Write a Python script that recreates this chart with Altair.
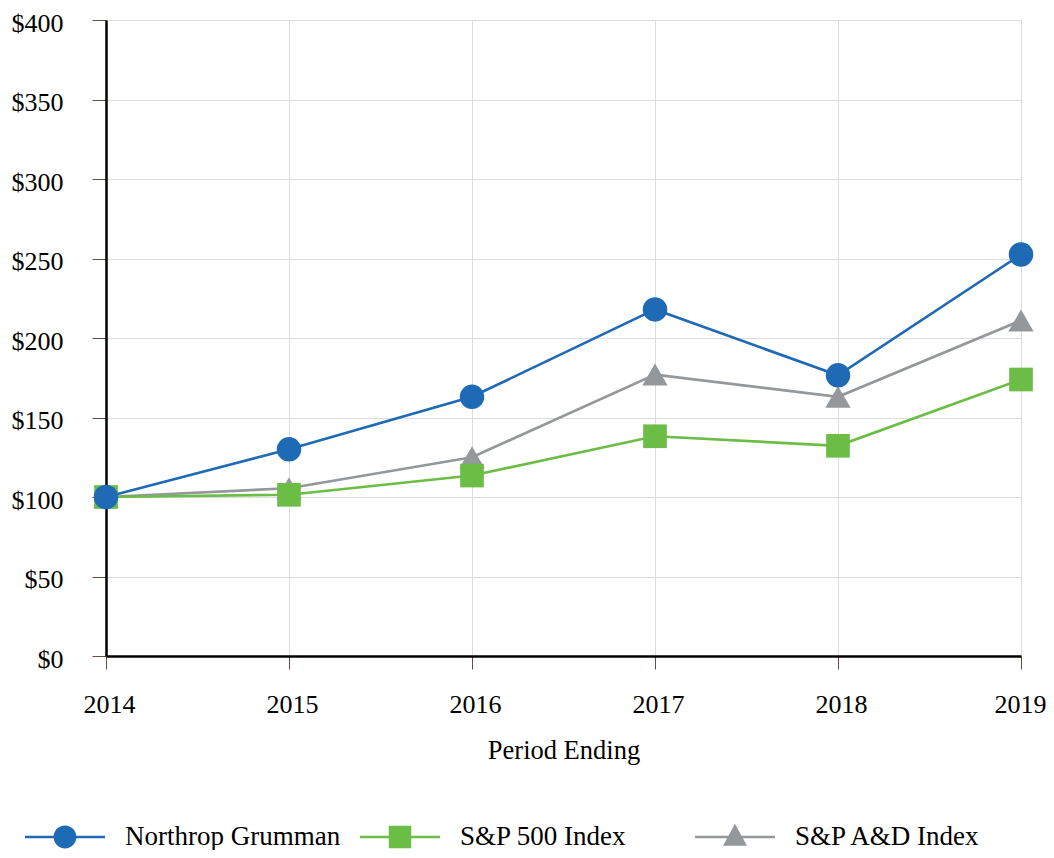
import altair as alt
import pandas as pd

years = [2014, 2015, 2016, 2017, 2018, 2019]
northrop = [100, 130, 163, 218, 176.5, 252.5]
sp500 = [100, 101.4, 113.5, 138.2, 132.2, 173.9]
spad = [100, 105.5, 125, 177, 163, 211]

series_names = ["Northrop Grumman", "S&P 500 Index", "S&P A&D Index"]
series_colors = ["#1f6ab4", "#6cbd46", "#95989b"]
series_values = [northrop, sp500, spad]
y_ticks = [0, 50, 100, 150, 200, 250, 300, 350, 400]

# legend symbols: a horizontal bar with the marker in its middle (unit box -1..1)
legend_paths = [
    "M-1,-0.032H1V0.032H-1Z M0.285,0 A0.285,0.285 0 1,1 -0.285,0 A0.285,0.285 0 1,1 0.285,0 Z",
    "M-1,-0.032H1V0.032H-1Z M-0.28,-0.28H0.28V0.28H-0.28Z",
    "M-1,-0.032H1V0.032H-1Z M0,-0.33L0.3,0.22L-0.3,0.22Z",
]

rows = []
for name, vals in zip(series_names, series_values):
    for yr, v in zip(years, vals):
        rows.append({"year": yr, "series": name, "value": v})
df = pd.DataFrame(rows)

FONT = "Liberation Serif"

x_enc = alt.X(
    "year:Q",
    scale=alt.Scale(domain=[2014, 2019], nice=False, zero=False),
    axis=alt.Axis(
        values=years, format="d", title="Period Ending",
        tickSize=13, labelPadding=22, titlePadding=20,
        labelFlush=False,
        labelOffset=alt.condition("datum.value == 2019", alt.value(-1), alt.value(3)),
    ),
)
y_enc = alt.Y(
    "value:Q",
    scale=alt.Scale(domain=[0, 400], nice=False),
    axis=alt.Axis(
        values=y_ticks, format="$,.0f", title=None,
        tickSize=14, labelPadding=29, labelOffset=3,
    ),
)

marker_shapes = ["circle", "square", "triangle-up"]
marker_sizes = [600, 560, 640]

layers = []
# draw grey first, then green, then blue on top
for idx in [2, 1, 0]:
    name = series_names[idx]
    base = alt.Chart(df).transform_filter(alt.datum.series == name)
    layers.append(
        base.mark_line(color=series_colors[idx], strokeWidth=2.7).encode(x=x_enc, y=y_enc)
    )
for idx in [2, 1, 0]:
    name = series_names[idx]
    base = alt.Chart(df).transform_filter(alt.datum.series == name)
    layers.append(
        base.mark_point(
            filled=True, opacity=1, color=series_colors[idx],
            shape=marker_shapes[idx], size=marker_sizes[idx],
        ).encode(x=x_enc, y=y_enc)
    )

legend = alt.Legend(
    title=None, orient="none", direction="horizontal", columns=3,
    gridAlign="all", legendX=-81, legendY=777,
    symbolSize=6400, symbolStrokeWidth=0, symbolOpacity=1,
    labelFont=FONT, labelFontSize=27, labelColor="black",
    labelOffset=20, columnPadding=19, labelLimit=400,
)
legend_layer = alt.Chart(df).mark_point(filled=True, opacity=0).encode(
    x=x_enc, y=y_enc,
    color=alt.Color("series:N", scale=alt.Scale(domain=series_names, range=series_colors), legend=legend),
    shape=alt.Shape("series:N", scale=alt.Scale(domain=series_names, range=legend_paths), legend=legend),
)
layers.append(legend_layer)

chart = alt.layer(*layers).properties(
    width=915, height=636,
    autosize=alt.AutoSizeParams(type="none"),
    padding={"left": 98, "top": 12, "right": 25, "bottom": 194},
).configure_view(stroke=None).configure_axis(
    labelFont=FONT, labelFontSize=26, labelColor="black",
    titleFont=FONT, titleFontSize=26.5, titleColor="black", titleFontWeight="normal",
    domainColor="black", domainWidth=2.5,
    tickColor="#6b4a44", tickWidth=1,
    gridColor="#dedbe4", gridWidth=1,
)

chart.save("out.html", embed_options={"renderer": "svg", "actions": False})
